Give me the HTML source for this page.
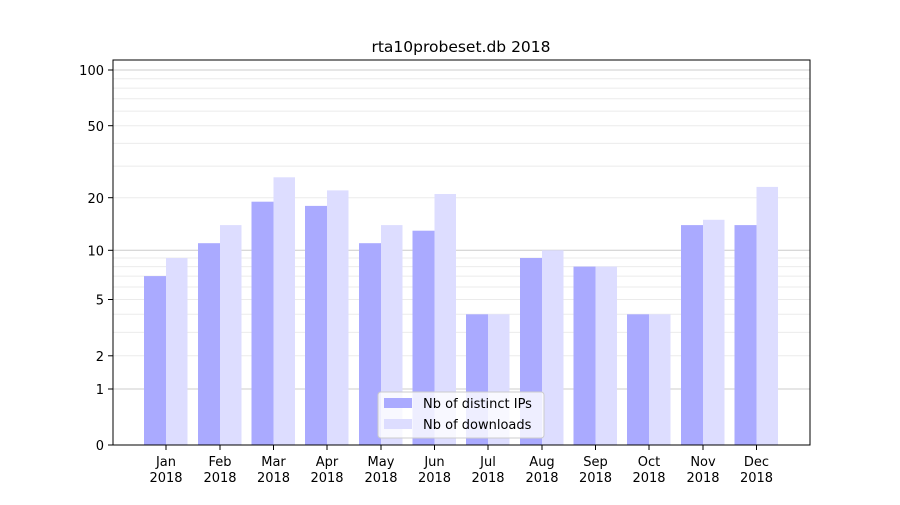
<!DOCTYPE html>
<html><head><meta charset="utf-8"><style>
html,body{margin:0;padding:0;background:#fff;}
svg text{font-family:"DejaVu Sans","Liberation Sans",sans-serif;font-size:13px;fill:#000;}
</style></head><body>
<svg width="900" height="500" xmlns="http://www.w3.org/2000/svg">
<rect width="900" height="500" fill="#fff"/>
<g stroke="#ebebeb" stroke-width="1">
<line x1="113" x2="810" y1="355.8" y2="355.8"/><line x1="113" x2="810" y1="332.4" y2="332.4"/>
<line x1="113" x2="810" y1="314.3" y2="314.3"/><line x1="113" x2="810" y1="299.5" y2="299.5"/>
<line x1="113" x2="810" y1="287" y2="287"/><line x1="113" x2="810" y1="276.1" y2="276.1"/>
<line x1="113" x2="810" y1="266.6" y2="266.6"/><line x1="113" x2="810" y1="258" y2="258"/>
<line x1="113" x2="810" y1="197.7" y2="197.7"/><line x1="113" x2="810" y1="166.1" y2="166.1"/>
<line x1="113" x2="810" y1="143.4" y2="143.4"/><line x1="113" x2="810" y1="125.7" y2="125.7"/>
<line x1="113" x2="810" y1="111.1" y2="111.1"/><line x1="113" x2="810" y1="98.8" y2="98.8"/>
<line x1="113" x2="810" y1="88.1" y2="88.1"/><line x1="113" x2="810" y1="78.7" y2="78.7"/>
</g>
<g stroke="#cccccc" stroke-width="1">
<line x1="113" x2="810" y1="389" y2="389"/><line x1="113" x2="810" y1="250.3" y2="250.3"/><line x1="113" x2="810" y1="70" y2="70"/>
</g>
<g fill="#aaaaff">
<rect x="144" y="276.1" width="22" height="168.9"/>
<rect x="198" y="243.2" width="22" height="201.8"/>
<rect x="251.5" y="201.7" width="22" height="243.3"/>
<rect x="305" y="205.9" width="22" height="239.1"/>
<rect x="359" y="243.2" width="22" height="201.8"/>
<rect x="412.5" y="230.7" width="22" height="214.3"/>
<rect x="466" y="314.3" width="22" height="130.7"/>
<rect x="520" y="258" width="22" height="187"/>
<rect x="573.5" y="266.6" width="22" height="178.4"/>
<rect x="627" y="314.3" width="22" height="130.7"/>
<rect x="681" y="225.1" width="22" height="219.9"/>
<rect x="734.5" y="225.1" width="22" height="219.9"/>
</g>
<g fill="#ddddff">
<rect x="166" y="258" width="21.5" height="187"/>
<rect x="220" y="225.1" width="21.5" height="219.9"/>
<rect x="273.5" y="177.3" width="21.5" height="267.7"/>
<rect x="327" y="190.4" width="21.5" height="254.6"/>
<rect x="381" y="225.1" width="21.5" height="219.9"/>
<rect x="434.5" y="194" width="21.5" height="251"/>
<rect x="488" y="314.3" width="21.5" height="130.7"/>
<rect x="542" y="250.3" width="21.5" height="194.7"/>
<rect x="595.5" y="266.6" width="21.5" height="178.4"/>
<rect x="649" y="314.3" width="21.5" height="130.7"/>
<rect x="703" y="219.8" width="21.5" height="225.2"/>
<rect x="756.5" y="186.9" width="21.5" height="258.1"/>
</g>
<rect x="113" y="60" width="697" height="385" fill="none" stroke="#000" stroke-width="1"/>
<g stroke="#000">
<line x1="108" x2="113" y1="445" y2="445"/><line x1="108" x2="113" y1="389" y2="389"/>
<line x1="108" x2="113" y1="355.8" y2="355.8"/><line x1="108" x2="113" y1="299.5" y2="299.5"/>
<line x1="108" x2="113" y1="250.3" y2="250.3"/><line x1="108" x2="113" y1="197.7" y2="197.7"/>
<line x1="108" x2="113" y1="125.7" y2="125.7"/><line x1="108" x2="113" y1="70" y2="70"/>
<line x1="166" x2="166" y1="445" y2="450"/><line x1="220" x2="220" y1="445" y2="450"/>
<line x1="273.5" x2="273.5" y1="445" y2="450"/><line x1="327" x2="327" y1="445" y2="450"/>
<line x1="381" x2="381" y1="445" y2="450"/><line x1="434.5" x2="434.5" y1="445" y2="450"/>
<line x1="488" x2="488" y1="445" y2="450"/><line x1="542" x2="542" y1="445" y2="450"/>
<line x1="595.5" x2="595.5" y1="445" y2="450"/><line x1="649" x2="649" y1="445" y2="450"/>
<line x1="703" x2="703" y1="445" y2="450"/><line x1="756.5" x2="756.5" y1="445" y2="450"/>
</g>
<g text-anchor="end">
<text x="104" y="450">0</text><text x="104" y="394">1</text><text x="104" y="361">2</text>
<text x="104" y="304.5">5</text><text x="104" y="255.5">10</text><text x="104" y="203">20</text>
<text x="104" y="131">50</text><text x="104" y="75">100</text>
</g>
<g text-anchor="middle">
<text x="166" y="466">Jan</text><text x="166" y="482">2018</text>
<text x="220" y="466">Feb</text><text x="220" y="482">2018</text>
<text x="273.5" y="466">Mar</text><text x="273.5" y="482">2018</text>
<text x="327" y="466">Apr</text><text x="327" y="482">2018</text>
<text x="381" y="466">May</text><text x="381" y="482">2018</text>
<text x="434.5" y="466">Jun</text><text x="434.5" y="482">2018</text>
<text x="488" y="466">Jul</text><text x="488" y="482">2018</text>
<text x="542" y="466">Aug</text><text x="542" y="482">2018</text>
<text x="595.5" y="466">Sep</text><text x="595.5" y="482">2018</text>
<text x="649" y="466">Oct</text><text x="649" y="482">2018</text>
<text x="703" y="466">Nov</text><text x="703" y="482">2018</text>
<text x="756.5" y="466">Dec</text><text x="756.5" y="482">2018</text>
<text x="461" y="52" style="font-size:15.5px">rta10probeset.db 2018</text>
</g>
<rect x="378" y="392" width="166" height="46" rx="3" fill="#fff" fill-opacity="0.8" stroke="#ccc"/>
<rect x="384" y="398" width="28" height="10" fill="#aaaaff"/>
<rect x="384" y="419" width="28" height="10" fill="#ddddff"/>
<text x="423" y="408">Nb of distinct IPs</text>
<text x="423" y="429">Nb of downloads</text>
</svg>
</body></html>
